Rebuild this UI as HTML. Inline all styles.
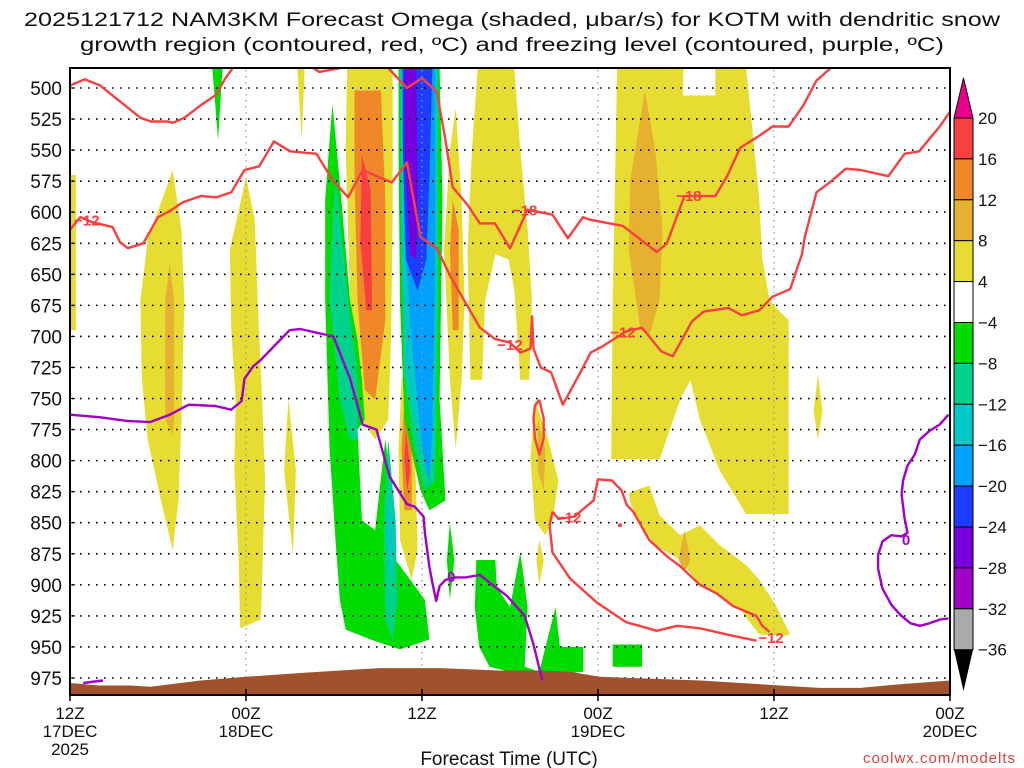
<!DOCTYPE html>
<html><head><meta charset="utf-8">
<style>
html,body{margin:0;padding:0;background:#fff;}
svg{display:block;font-family:"Liberation Sans",sans-serif;}
</style></head>
<body>
<svg id="chart" width="1024" height="768" viewBox="0 0 1024 768" xmlns="http://www.w3.org/2000/svg">
  <g>
    <text x="512" y="26" text-anchor="middle" font-size="19" textLength="976" lengthAdjust="spacingAndGlyphs" fill="#111">2025121712 NAM3KM Forecast Omega (shaded, μbar/s) for KOTM with dendritic snow</text>
    <text x="512" y="51" text-anchor="middle" font-size="19" textLength="864" lengthAdjust="spacingAndGlyphs" fill="#111">growth region (contoured, red, ºC) and freezing level (contoured, purple, ºC)</text>
  </g>
  <defs><clipPath id="plotclip"><rect x="70" y="68" width="880" height="627"/></clipPath></defs>
  <g id="shading" clip-path="url(#plotclip)"></g>
  <g id="grid"></g>
  <g id="terrain" clip-path="url(#plotclip)"></g>
  <g id="contours" clip-path="url(#plotclip)"></g>
  <g id="labels"></g>
  <rect x="70" y="68" width="880" height="627" fill="none" stroke="#000" stroke-width="2"/>
  <g id="yaxis"></g>
  <g id="xaxis"></g>
  <text x="509" y="765" text-anchor="middle" font-size="19" fill="#111">Forecast Time (UTC)</text>
  <text x="1016" y="763" text-anchor="end" font-size="15" fill="#e04040" letter-spacing="1">coolwx.com/modelts</text>
  <g id="colorbar"></g>
</svg>
<script>
// ---- axes data ----
const pressureTicks = [500,525,550,575,600,625,650,675,700,725,750,775,800,825,850,875,900,925,950,975];
const timeTickHours = [0,12,24,36,48,60];
const timeTickLabels = [["12Z","17DEC","2025"],["00Z","18DEC"],["12Z"],["00Z","19DEC"],["12Z"],["00Z","20DEC"]];
const cbLevels = [20,16,12,8,4,-4,-8,-12,-16,-20,-24,-28,-32,-36];
const cbColors = ["#f84040","#f0882a","#e6b030","#e6dc32","#ffffff","#00dc00","#00d28c","#00c8c8","#00a0ff","#1e3cff","#7800dc","#a000c8","#aaaaaa"];

// ---- shaded omega polygons [hour, mb] ----
const yLeftEdge = [[0,570],[0.4,570],[0.4,695],[0,695]];
const yBlobA = [[7.0,566],[7.6,615],[7.8,671],[7.6,767],[7.4,832],[7.0,872],[6.2,832],[5.3,783],[4.9,735],[4.8,671],[5.3,622]];
const oBlobA = [[6.8,642],[7.1,671],[7.1,767],[7.0,779],[6.5,767],[6.5,671]];
const yBlobB = [[12.0,572],[12.6,606],[12.8,671],[13.1,751],[13.3,816],[13.1,896],[13.0,928],[11.6,935],[11.5,880],[11.2,807],[11.3,751],[11.0,695],[10.9,630]];
const yBlobC = [[14.9,750],[15.4,808],[15.2,876],[14.6,808]];
const yBlobD = [[15.5,484],[16.0,484],[15.8,542]];
const yBlobE = [[18.9,484],[22.0,484],[22.0,590],[21.9,695],[21.7,767],[20.8,783],[19.9,767],[19.1,671],[18.8,550]];
const oBlobE = [[19.4,502],[21.2,502],[21.5,590],[21.5,687],[20.8,751],[20.1,743],[19.6,671],[19.4,574]];
const rBlobE = [[19.9,554],[20.5,582],[20.6,679],[20.2,679],[19.8,622]];
const yBlobF = [[23.0,723],[23.5,783],[23.7,872],[23.3,896],[22.5,864],[22.4,791],[22.6,735]];
const oBlobF = [[22.8,751],[23.3,791],[23.3,840],[22.8,840],[22.6,791]];
const rBlobF = [[22.9,775],[23.2,808],[23.0,824],[22.8,799]];
const yBlobG = [[26.3,516],[26.7,590],[26.9,671],[26.7,735],[26.3,791],[25.9,735],[25.5,630],[25.9,550]];
const oBlobG = [[26.1,590],[26.5,614],[26.5,695],[26.1,695],[25.9,630]];
const yBlobH = [[27.8,484],[30.3,484],[30.7,550],[31.2,614],[31.5,671],[31.3,735],[30.7,735],[30.3,663],[29.9,638],[29.0,634],[28.3,671],[28.1,735],[27.3,735],[27.1,630],[27.4,550]];
const yBlobI = [[31.7,751],[32.6,783],[33.3,816],[32.9,848],[32.4,860],[31.7,848],[31.4,799]];
const oBlobI = [[31.9,767],[32.4,791],[32.3,824],[31.9,808]];
const yBlobJ = [[32.0,864],[32.3,880],[32.0,900],[31.8,880]];
const yBlobK = [[37.3,484],[46.1,484],[46.6,542],[47.0,590],[47.2,638],[47.7,671],[48.3,679],[49.0,687],[49.0,843],[46.1,843],[44.3,808],[42.95,767],[42.3,735],[41.6,751],[40.2,799],[38.9,799],[36.9,799],[37.0,671],[37.2,550]];
const wNotchK = [[41.8,484],[44.0,484],[44.0,506],[41.8,506]];
const oBlobK = [[39.2,502],[39.9,550],[40.4,614],[40.2,671],[39.5,699],[38.9,695],[38.1,630],[38.2,574]];
const yBlobL = [[38.1,826],[39.5,820],[40.2,844],[41.6,860],[42.95,852],[44.3,868],[46.1,884],[47.0,896],[48.1,916],[49.1,940],[48.8,941],[47.0,940],[45.7,920],[44.3,908],[42.95,900],[41.6,880],[39.9,868],[38.9,852],[38.2,834]];
const oBlobL = [[41.9,856],[42.3,880],[41.9,890],[41.5,880]];
const yBlobM = [[51.0,731],[51.3,760],[51.0,783],[50.7,760]];
const gSpikeA = [[9.7,484],[10.4,484],[10.1,542]];
const gBlobB = [[17.9,513],[18.5,590],[19.1,671],[19.6,703],[19.9,735],[20.1,767],[19.6,775],[19.9,848],[20.8,856],[21.5,783],[21.8,808],[22.2,880],[23.2,896],[24.2,912],[24.5,944],[22.5,952],[20.5,944],[18.8,936],[18.4,912],[18.1,864],[17.7,791],[17.4,671],[17.4,590],[17.7,542]];
const tBlobB1 = [[18.1,574],[18.96,671],[19.6,735],[19.6,783],[19.1,783],[18.4,751],[17.7,671],[17.9,606]];
const tBlobB2 = [[21.7,783],[22.2,848],[22.3,912],[22.0,944],[21.5,928],[21.4,848]];
const cBlobB2 = [[21.8,816],[22.1,864],[21.9,896],[21.6,864]];
const gColC = [[22.4,484],[25.2,484],[25.4,590],[25.2,751],[25.6,832],[24.5,840],[23.9,824],[22.8,767],[22.5,671],[22.4,550]];
const tColC = [[22.5,484],[25.1,484],[25.1,671],[24.9,816],[24.2,824],[23.5,791],[22.8,735],[22.6,630]];
const cColC = [[22.55,484],[25.0,484],[25.0,660],[24.8,800],[24.3,810],[23.6,770],[22.8,720],[22.6,630]];
const lbColC = [[22.6,484],[24.9,484],[24.9,638],[24.7,775],[24.5,816],[24.0,791],[23.3,703],[22.8,622]];
const dbColC = [[22.7,484],[24.7,484],[24.5,574],[24.3,638],[23.7,663],[22.9,638],[22.7,550]];
const puColC = [[22.8,484],[23.6,484],[23.7,590],[23.6,638],[23.2,634],[22.8,550]];
const gBlobD = [[27.7,880],[29.0,880],[29.1,902],[30.0,918],[30.7,874],[31.2,918],[31.0,966],[32.0,970],[33.1,918],[33.4,950],[35.0,950],[35.0,970],[32.0,973],[30.0,970],[28.6,966],[27.9,950],[27.6,918]];
const gBlobE = [[37.0,948],[39.0,948],[39.0,966],[37.0,966]];
const gSpikeF = [[25.9,850],[26.2,880],[25.9,912],[25.7,880]];

const shadeList = [
  [yLeftEdge,3],[yBlobA,3],[oBlobA,2],[yBlobB,3],[yBlobC,3],[yBlobD,3],[yBlobE,3],[oBlobE,1],[rBlobE,0],
  [yBlobF,3],[oBlobF,1],[rBlobF,0],[yBlobG,3],[oBlobG,1],[yBlobH,3],[yBlobI,3],[oBlobI,2],[yBlobJ,3],
  [yBlobK,3],[wNotchK,4],[oBlobK,2],[yBlobL,3],[oBlobL,2],[yBlobM,3],
  [gSpikeA,5],[gBlobB,5],[tBlobB1,6],[tBlobB2,6],[cBlobB2,7],
  [gColC,5],[tColC,6],[cColC,7],[lbColC,8],[dbColC,9],[puColC,10],
  [gBlobD,5],[gBlobE,5],[gSpikeF,5]
];

// ---- terrain surface [hour, mb] ----
const terrainHours = [0,2.0,4.1,5.5,8.9,12,15.7,18.4,21.1,25.2,29.3,32.0,34.1,36.1,43.0,48.4,51.1,53.9,56.6,60];
const terrainMb = [979,981,981,982,977,974,971,969,967,967,969,969,970,974,977,981,983,983,980,977];

// ---- red contours [hour, mb] ----
const redLineTop = [[0,498],[1.0,493],[2.05,498],[3.75,514],[4.8,524],[5.5,527],[6.7,527],[7.0,528],[7.8,524],[8.9,514],[9.9,506],[10.6,492],[11.1,484]];
const redLineTopSmall = [[16.6,484],[17.0,487],[18.4,484]];
const redLineM12 = [[0,614],[0.7,604],[1.5,608],[2.9,612],[3.4,624],[3.95,629],[5.0,625],[6.0,604],[6.8,599],[7.7,592],[8.9,587],[10.0,588],[11.0,584],[11.9,566],[12.9,563],[13.9,543],[15.0,551],[16.8,553],[17.9,574],[18.96,588],[19.96,566],[21.1,572],[21.95,576],[22.97,560],[23.9,620],[25.0,629],[26.0,653],[27.95,693],[28.97,702],[30.0,705],[30.7,713],[31.4,710],[31.5,684],[31.6,710],[32.1,725],[32.8,729],[33.6,755],[34.8,729],[35.5,713],[36.3,708],[37.9,696],[39.0,693],[40.3,712],[41.1,716],[42.4,688],[43.2,680],[44.9,677],[45.8,683],[47.0,679],[47.9,668],[49.1,662],[49.9,634],[50.1,620],[50.9,584],[51.8,576],[52.9,565],[53.9,566],[55.8,571],[56.9,553],[57.9,551],[59.3,531],[60,519]];
const redLineM18 = [[21.7,484],[22.97,500],[24.0,492],[25.0,503],[25.6,542],[26.1,580],[27.1,594],[27.95,609],[28.97,609],[30.0,629],[31.2,598],[32.9,602],[33.95,621],[34.97,604],[35.45,606],[37.7,611],[40.0,632],[40.7,625],[41.9,587],[44.0,587],[44.8,571],[45.7,548],[46.8,540],[47.9,531],[49.0,531],[50.0,514],[50.9,494],[51.96,483]];
const redLoop = [[32.0,751],[32.3,766],[32.3,782],[32.0,795],[31.7,782],[31.6,766],[31.7,756],[32.0,751]];
const redLowerA = [[32.9,841],[33.3,847],[34.4,845],[35.7,832],[36.0,815],[36.95,816],[37.6,824],[37.98,836],[38.4,841],[39.5,864],[40.7,877],[41.6,885],[42.95,900],[44.1,907],[45.2,917],[46.8,925],[47.2,933],[47.7,938]];
const redLowerB = [[32.9,841],[32.7,852],[32.9,874],[34.1,895],[35.9,914],[37.9,930],[40.0,937],[41.4,933],[42.95,935],[45.2,941],[46.8,945]];

// ---- purple 0C contours [hour, mb] ----
const purpleMain = [[0,763],[2.0,765],[3.9,768],[5.45,769],[6.8,763],[8.1,755],[9.9,756],[11.0,759],[11.7,752],[11.9,734],[12.5,724],[13.0,719],[14.97,695],[15.7,694],[17.96,700],[19.1,734],[19.96,771],[20.9,775],[21.8,813],[22.97,835],[23.5,837],[24.1,845],[24.2,858],[24.5,885],[24.7,898],[24.97,913],[25.2,901],[25.6,896],[26.3,894],[26.97,894],[27.95,892],[28.8,900],[29.8,909],[31.0,925],[31.6,948],[32.2,977]];
const purpleBottom = [[0.9,979],[2.25,977]];
const purpleRight = [[59.9,763],[59.3,771],[58.6,776],[57.95,783],[57.6,795],[57.1,804],[56.8,816],[56.7,827],[56.9,846],[57.1,858],[56.7,861],[56.0,860],[55.4,865],[55.1,876],[55.1,887],[55.4,903],[56.0,916],[56.6,924],[57.3,931],[57.95,933],[58.6,931],[59.3,928],[59.9,927]];

// ---- contour labels ----
const redLabelText = ["-12","-12","-18","-18","-12","-12","-12"];
const redLabelPos = [[1.15,606],[30.0,706],[31.0,598],[42.2,586],[37.7,696],[34.0,845],[47.8,942]];
const purpleLabelText = ["0","0"];
const purpleLabelPos = [[26.0,893],[57.0,863]];

// ---- scales ----
function xS(h){ return 70 + h*880/60; }
function yS(p){ return 88 + (p-500)*590/475; }
const NS = "http://www.w3.org/2000/svg";
function mk(tag, attrs, parent){ const e=document.createElementNS(NS,tag); for(const k in attrs) e.setAttribute(k,attrs[k]); parent.appendChild(e); return e; }
function pts(arr){ return arr.map(p=>xS(p[0]).toFixed(1)+","+yS(p[1]).toFixed(1)).join(" "); }

const shadeColors = ["#f84040","#f0882a","#e6b030","#e6dc32","#ffffff","#00dc00","#00d28c","#00c8c8","#00a0ff","#1e3cff","#7800dc","#a000c8"];
const gShade = document.getElementById("shading");
shadeList.forEach(function(s, i){
  const el = mk("polygon",{points:pts(s[0]),fill:shadeColors[s[1]]},gShade);
  
  
});

// grid
const gGrid = document.getElementById("grid");
pressureTicks.forEach(function(p){
  const el = mk("line",{x1:72,x2:948,y1:yS(p),y2:yS(p),stroke:"#000","stroke-width":1.6,"stroke-dasharray":"1.6 6.4"},gGrid);
  
  
});
timeTickHours.slice(1,5).forEach(function(h){
  const el = mk("line",{x1:xS(h),x2:xS(h),y1:70,y2:693,stroke:"#999","stroke-width":1.2,"stroke-dasharray":"1.5 4.5"},gGrid);
  
  
});

// terrain
const gTer = document.getElementById("terrain");
const terPts = terrainHours.map((h,i)=>[h,terrainMb[i]]);
const terPoly = mk("polygon",{points:pts(terPts)+" "+xS(60)+",700 "+xS(0)+",700",fill:"#a0522d"},gTer);



// contours
const gCon = document.getElementById("contours");
function line(arr, color, name){
  const el = mk("polyline",{points:pts(arr),fill:"none",stroke:color,"stroke-width":2.4,"stroke-linejoin":"round"},gCon);
  
  
}
line(redLineTop,"#f84040","dgz-contour-upper");
line(redLineTopSmall,"#f84040","dgz-contour-upper-fragment");
line(redLineM12,"#f84040","dgz-contour-minus12");
line(redLineM18,"#f84040","dgz-contour-minus18");
line(redLoop,"#f84040","dgz-contour-loop");
line(redLowerA,"#f84040","dgz-contour-lower-a");
line(redLowerB,"#f84040","dgz-contour-lower-b");
line(purpleMain,"#a000c8","freezing-level-contour");
line(purpleBottom,"#a000c8","freezing-level-fragment");
line(purpleRight,"#a000c8","freezing-level-contour-right");
const dot = mk("circle",{cx:xS(37.5),cy:yS(852),r:2,fill:"#f84040"},gCon);



// labels
const gLab = document.getElementById("labels");
redLabelText.forEach(function(t,i){
  const x=xS(redLabelPos[i][0]), y=yS(redLabelPos[i][1]);
  const el = mk("text",{x:x,y:y+6,"text-anchor":"middle","font-size":15,"font-weight":"bold",fill:"#f84040"},gLab);
  el.textContent = t.replace("-","\u2212");
  
  
});
purpleLabelText.forEach(function(t,i){
  const el = mk("text",{x:xS(purpleLabelPos[i][0]),y:yS(purpleLabelPos[i][1])+6,"text-anchor":"middle","font-size":15,"font-weight":"bold",fill:"#a000c8"},gLab);
  el.textContent = t;
  
  
});

// y axis
const gY = document.getElementById("yaxis");
pressureTicks.forEach(function(p){
  const el = mk("text",{x:62,y:yS(p)+7,"text-anchor":"end","font-size":19,fill:"#111"},gY);
  el.textContent = p;
  
  
  const tk = mk("line",{x1:70,x2:75,y1:yS(p),y2:yS(p),stroke:"#000","stroke-width":1},gY);
  
  
});

// x axis
const gX = document.getElementById("xaxis");
timeTickHours.forEach(function(h,i){
  const x = xS(h);
  const tk = mk("line",{x1:x,x2:x,y1:689,y2:701,stroke:"#000","stroke-width":1.5},gX);
  
  
  timeTickLabels[i].forEach(function(t,j){
    const el = mk("text",{x:x,y:719+j*18,"text-anchor":"middle","font-size":17,fill:"#111"},gX);
    el.textContent = t;
    
    
  });
});

// colorbar
const gCb = document.getElementById("colorbar");
function cbY(i){ return 118 + i*40.9; }
for(let i=0;i<cbColors.length;i++){
  const el = mk("rect",{x:954,y:cbY(i),width:19,height:40.9,fill:cbColors[i],stroke:"#000","stroke-width":1},gCb);
  
  
}
const triTop = mk("polygon",{points:"954,"+cbY(0)+" 973,"+cbY(0)+" 963.5,78",fill:"#e8008c",stroke:"#000","stroke-width":1},gCb);


const triBot = mk("polygon",{points:"954,"+cbY(13)+" 973,"+cbY(13)+" 963.5,691",fill:"#000"},gCb);


cbLevels.forEach(function(v,i){
  const el = mk("text",{x:978,y:cbY(i)+6,"font-size":17,fill:"#111"},gCb);
  el.textContent = String(v).replace("-","\u2212");
  
  
});
</script>
</body></html>
